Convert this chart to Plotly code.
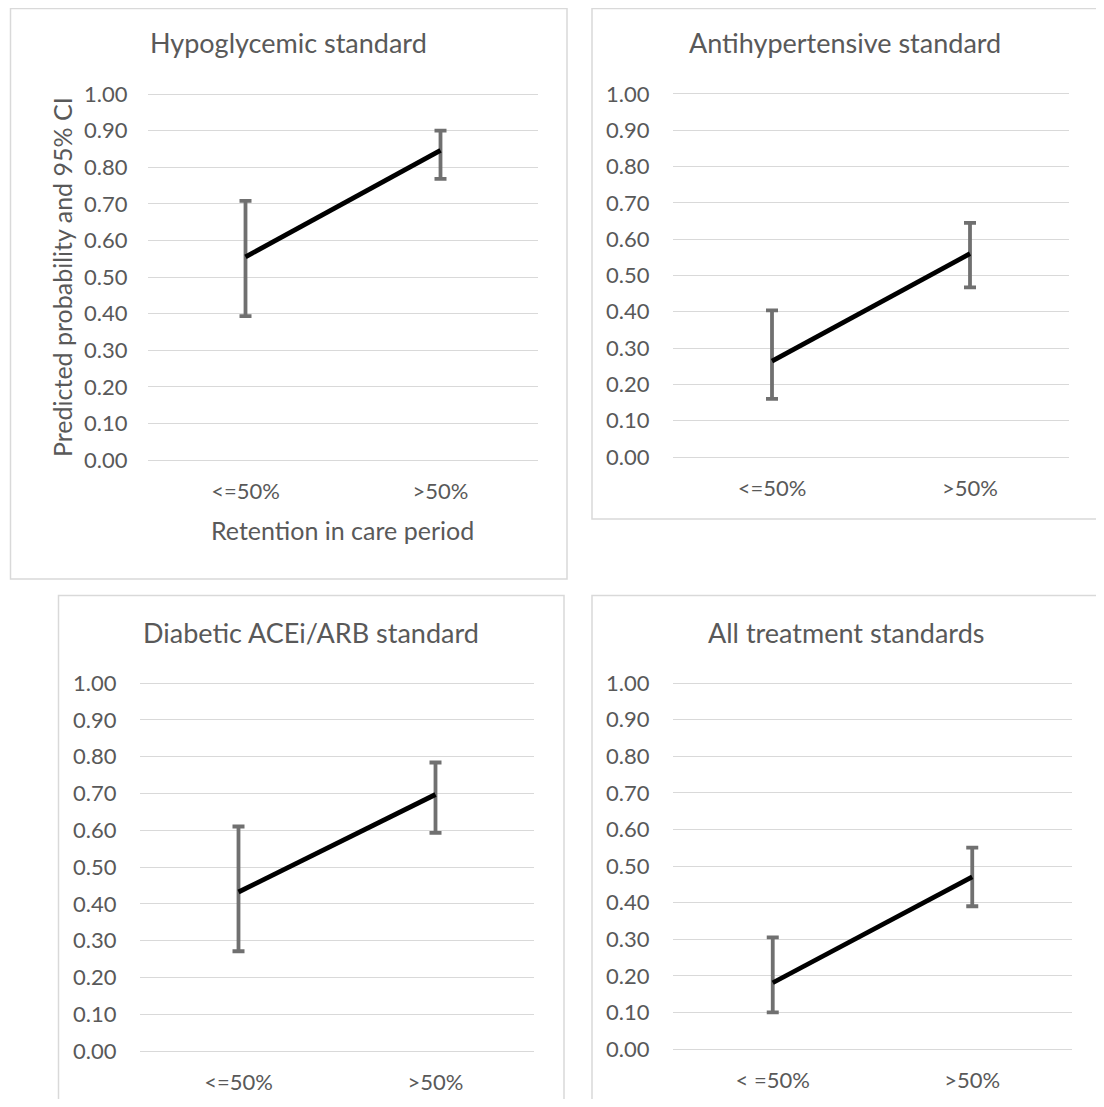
import plotly.graph_objects as go

# ---- data ----
categories = ["<=50%", ">50%"]
categories_all = ["< =50%", ">50%"]

panel_titles = ["Hypoglycemic standard", "Antihypertensive standard",
                "Diabetic ACEi/ARB standard", "All treatment standards"]

hypo_est = [0.555, 0.846]
hypo_lo = [0.393, 0.768]
hypo_hi = [0.708, 0.900]

anti_est = [0.264, 0.560]
anti_lo = [0.160, 0.467]
anti_hi = [0.404, 0.645]

acei_est = [0.432, 0.697]
acei_lo = [0.271, 0.593]
acei_hi = [0.610, 0.784]

all_est = [0.181, 0.470]
all_lo = [0.100, 0.390]
all_hi = [0.305, 0.550]

y_ticks = [0.0, 0.1, 0.2, 0.3, 0.4, 0.5, 0.6, 0.7, 0.8, 0.9, 1.0]
y_ticklabels = ["0.00", "0.10", "0.20", "0.30", "0.40", "0.50",
                "0.60", "0.70", "0.80", "0.90", "1.00"]

x_axis_title = "Retention in care period"
y_axis_title = "Predicted probability and 95% CI"

# ---- layout geometry ----
# figure is placed by the page at an 8px offset; size chosen so the page fits the window
W, H = 1096, 1091
OX, OY = 8, 8
FONT = "Lato, 'Open Sans', sans-serif"
TXT = "#595959"
GRID = "#d9d9d9"
ERR = "#707070"
PAD = 0.005


def px(x):
    return min(max((x - OX) / W, 0.0), 1.0)


def py(y):
    return min(max(1 - (y - OY) / H, 0.0), 1.0)


# plot areas in window pixels: (x_left, x_right, y_px_of_0, y_px_of_1)
areas = [
    (148, 538, 460, 94),
    (673, 1069, 457, 94),
    (140, 534, 1051, 683),
    (673, 1072, 1049, 683),
]
ytick_gap = [15, 18, 18, 18]
borders = [
    (10.5, 567, 8.5, 579),
    (592, 1098, 8.5, 519),
    (58.5, 564, 595.5, 1120),
    (592, 1110, 595.5, 1120),
]
title_pos = [(288, 44), (845, 44), (311, 633), (846, 633)]

datasets = [
    (categories, hypo_est, hypo_lo, hypo_hi),
    (categories, anti_est, anti_lo, anti_hi),
    (categories, acei_est, acei_lo, acei_hi),
    (categories_all, all_est, all_lo, all_hi),
]

fig = go.Figure()
layout = dict(
    width=W, height=H,
    margin=dict(l=0, r=0, t=0, b=0, pad=0, autoexpand=False),
    paper_bgcolor="white", plot_bgcolor="white",
    showlegend=False,
    font=dict(family=FONT, color=TXT),
    shapes=[], annotations=[],
)

for i, ((cats, est, lo, hi), (xl, xr, y0, y1), (bx0, bx1, by0, by1), (tx, ty), title, gap) in enumerate(
        zip(datasets, areas, borders, title_pos, panel_titles, ytick_gap)):
    n = i + 1
    xa = "x" if n == 1 else f"x{n}"
    ya = "y" if n == 1 else f"y{n}"
    span = y0 - y1
    top = y1 - PAD * span
    bot = y0 + PAD * span
    xd = [px(xl), px(xr)]
    yd = [py(bot), py(top)]

    plus = [h - e for h, e in zip(hi, est)]
    minus = [e - l for e, l in zip(est, lo)]

    # error bars (drawn first so the line sits on top)
    fig.add_trace(go.Scatter(
        x=cats, y=est, mode="markers",
        marker=dict(size=1, color="rgba(0,0,0,0)"),
        error_y=dict(type="data", symmetric=False, array=plus, arrayminus=minus,
                     color=ERR, thickness=3.8, width=6),
        xaxis=xa, yaxis=ya, hoverinfo="skip",
    ))
    fig.add_trace(go.Scatter(
        x=cats, y=est, mode="lines",
        line=dict(color="black", width=4.8),
        xaxis=xa, yaxis=ya,
    ))

    xkey = "xaxis" if n == 1 else f"xaxis{n}"
    ykey = "yaxis" if n == 1 else f"yaxis{n}"
    layout[xkey] = dict(
        domain=xd, anchor=ya, type="category", range=[-0.5, 1.5],
        showgrid=False, zeroline=False, showline=False, automargin=False,
        ticks="outside", ticklen=10, tickcolor="rgba(0,0,0,0)",
        tickfont=dict(size=22, color=TXT, family=FONT),
        fixedrange=True,
    )
    layout[ykey] = dict(
        domain=yd, anchor=xa, range=[-PAD, 1 + PAD],
        tickvals=y_ticks, ticktext=y_ticklabels, automargin=False,
        showgrid=True, gridcolor=GRID, gridwidth=1.3,
        zeroline=False, showline=False,
        ticks="outside", ticklen=gap, tickcolor="rgba(0,0,0,0)",
        tickfont=dict(size=22, color=TXT, family=FONT),
        fixedrange=True,
    )

    # panel border
    layout["shapes"].append(dict(
        type="rect", xref="paper", yref="paper",
        x0=px(bx0), x1=(bx1 - OX) / W, y0=(1 - (by1 - OY) / H), y1=py(by0),
        line=dict(color=GRID, width=1.5), fillcolor="rgba(0,0,0,0)", layer="below",
    ))
    # panel title
    layout["annotations"].append(dict(
        text=title, xref="paper", yref="paper", x=px(tx), y=py(ty - 1),
        xanchor="center", yanchor="middle", showarrow=False,
        font=dict(size=27, color=TXT, family=FONT),
    ))

# axis titles (first panel only)
layout["annotations"].append(dict(
    text=x_axis_title, xref="paper", yref="paper", x=px(343), y=py(530),
    xanchor="center", yanchor="middle", showarrow=False,
    font=dict(size=25, color=TXT, family=FONT),
))
layout["annotations"].append(dict(
    text=y_axis_title, xref="paper", yref="paper", x=px(62), y=py(277),
    xanchor="center", yanchor="middle", showarrow=False, textangle=-90,
    font=dict(size=25, color=TXT, family=FONT),
))

fig.update_layout(**layout)
fig.write_html("out.html")
